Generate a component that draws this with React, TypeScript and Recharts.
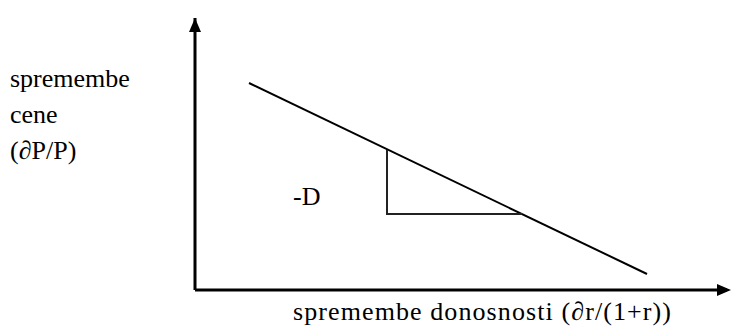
import React from "react";
import { ComposedChart, Line, XAxis, YAxis, ReferenceLine, ReferenceDot } from "recharts";

// values in plot units (origin at the axes corner)
const mainLine = [
  { x: 54, y: 207 },
  { x: 452, y: 16 },
];
const triangle = [
  { x: 192, y: 140 },
  { x: 192, y: 76 },
  { x: 327, y: 76 },
];
const xMax = 532;
const yMax = 272;
const yLabel = ["spremembe", "cene", "(\u2202P/P)"];
const xLabel = "spremembe donosnosti (\u2202r/(1+r))";
const slopeLabel = "-D";

const W = 731;
const H = 327;
const M = { top: 18, right: 4, bottom: 37, left: 195 };

const font = "Liberation Serif";

const UpArrow = (p: any) => (
  <path d={`M${p.cx},${p.cy} L${p.cx - 6},${p.cy + 14} L${p.cx + 6},${p.cy + 14} Z`} fill="#000" />
);
const RightArrow = (p: any) => (
  <path d={`M${p.cx + 4},${p.cy} L${p.cx - 10},${p.cy - 6} L${p.cx - 10},${p.cy + 6} Z`} fill="#000" />
);

export default function App() {
  const px = (x: number) => M.left + (x / xMax) * (W - M.left - M.right);
  const py = (y: number) => M.top + (1 - y / yMax) * (H - M.top - M.bottom);
  return (
    <div style={{ position: "absolute", left: 0, top: 0, width: W, height: H, background: "#fff" }}>
      <ComposedChart width={W} height={H} margin={M}>
        <XAxis type="number" dataKey="x" domain={[0, xMax]} hide />
        <YAxis type="number" dataKey="y" domain={[0, yMax]} hide />
        <ReferenceLine segment={[{ x: 0, y: 0 }, { x: xMax, y: 0 }]} stroke="#000" strokeWidth={3} ifOverflow="visible" />
        <ReferenceLine segment={[{ x: 0, y: 0 }, { x: 0, y: yMax }]} stroke="#000" strokeWidth={3} ifOverflow="visible" />
        <ReferenceDot x={0} y={yMax} r={1} shape={UpArrow} ifOverflow="visible" />
        <ReferenceDot x={xMax} y={0} r={1} shape={RightArrow} ifOverflow="visible" />
        <Line data={mainLine} dataKey="y" stroke="#000" strokeWidth={2} dot={false} isAnimationActive={false} />
        <Line data={triangle} dataKey="y" stroke="#222" strokeWidth={2} dot={false} isAnimationActive={false} />
      </ComposedChart>
      <svg width={W} height={H} style={{ position: "absolute", left: 0, top: 0 }} fontFamily={font} fontSize={26} fill="#000">
        {yLabel.map((t, i) => (
          <text key={t} x={10} y={87 + i * 36}>{t}</text>
        ))}
        <text x={px(98)} y={py(85)}>{slopeLabel}</text>
        <text x={293} y={320} textLength={378} lengthAdjust="spacing">{xLabel}</text>
      </svg>
    </div>
  );
}
